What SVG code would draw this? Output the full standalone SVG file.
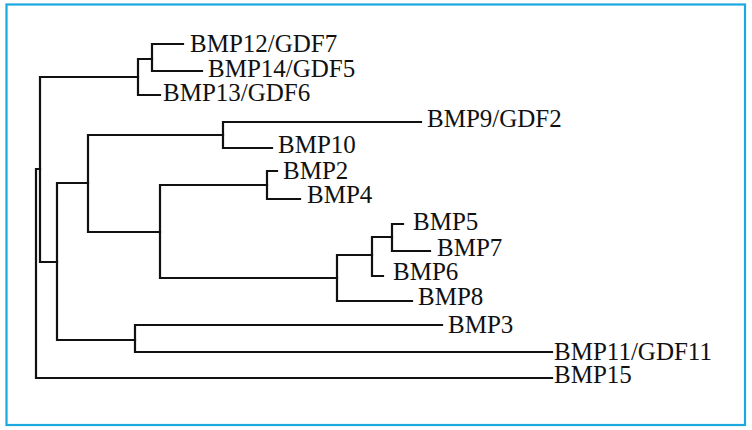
<svg xmlns="http://www.w3.org/2000/svg" width="752" height="430" viewBox="0 0 752 430">
  <style>
    .frame { fill: #ffffff; stroke: #1aa8df; stroke-width: 2.2; }
    .br { fill: none; stroke: #111111; stroke-width: 2.2; stroke-linecap: square; stroke-linejoin: miter; }
    .lbl { font-family: "Liberation Serif", "Times New Roman", serif; font-size: 25px; fill: #111111; }
  </style>
  <rect class="frame" x="6.5" y="4.5" width="738.5" height="420.5"/>
  <g id="connectors">
    <path class="br" d="M40,169 H36 V378 H552"/>
    <path class="br" d="M138,77 H40 V262 H57"/>
    <path class="br" d="M152,59 H138 V95 H160"/>
    <path class="br" d="M183,44 H152 V71 H202"/>
    <path class="br" d="M88,183 H57 V340 H135"/>
    <path class="br" d="M223,135 H88 V232 H160"/>
    <path class="br" d="M421,122 H223 V148 H272"/>
    <path class="br" d="M267,185 H160 V278 H337"/>
    <path class="br" d="M277,171 H267 V199 H300"/>
    <path class="br" d="M372,255 H337 V301 H412"/>
    <path class="br" d="M392,237 H372 V276 H383"/>
    <path class="br" d="M403,224 H392 V251 H430"/>
    <path class="br" d="M442,325 H135 V352 H552"/>
  </g>
  <g id="bmp12"><text class="lbl" x="190" y="52">BMP12/GDF7</text></g>
  <g id="bmp14"><text class="lbl" x="208" y="77">BMP14/GDF5</text></g>
  <g id="bmp13"><text class="lbl" x="163" y="101">BMP13/GDF6</text></g>
  <g id="bmp9"><text class="lbl" x="427" y="127">BMP9/GDF2</text></g>
  <g id="bmp10"><text class="lbl" x="278" y="153">BMP10</text></g>
  <g id="bmp2"><text class="lbl" x="283" y="179">BMP2</text></g>
  <g id="bmp4"><text class="lbl" x="307" y="203">BMP4</text></g>
  <g id="bmp5"><text class="lbl" x="413" y="230">BMP5</text></g>
  <g id="bmp7"><text class="lbl" x="437" y="256">BMP7</text></g>
  <g id="bmp6"><text class="lbl" x="393" y="280">BMP6</text></g>
  <g id="bmp8"><text class="lbl" x="418" y="305">BMP8</text></g>
  <g id="bmp3"><text class="lbl" x="448" y="333">BMP3</text></g>
  <g id="bmp11"><text class="lbl" x="554" y="360">BMP11/GDF11</text></g>
  <g id="bmp15"><text class="lbl" x="554" y="383">BMP15</text></g>
</svg>
